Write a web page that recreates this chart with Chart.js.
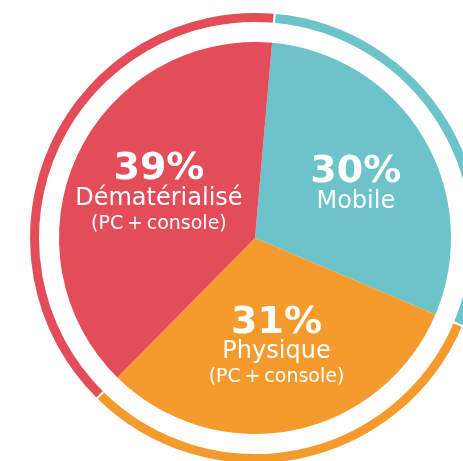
<!DOCTYPE html>
<html>
<head>
<meta charset="utf-8">
<script src="https://cdn.jsdelivr.net/npm/chart.js@4/dist/chart.umd.min.js"></script>
<style>
  html, body { margin: 0; padding: 0; background: #ffffff; overflow: hidden; width: 463px; height: 461px; }
  #wrap { position: absolute; left: 0; top: 11px; width: 510px; height: 454px; }
</style>
</head>
<body>
<div id="wrap"><canvas id="c" width="510" height="454"></canvas></div>
<script>
const categories = ['Mobile', 'Physique', 'Dématérialisé'];
const shares = [30, 31, 39];
const percentLabels = ['30%', '31%', '39%'];
const subLabels = ['', '(PC\u2009+\u2009console)', '(PC\u2009+\u2009console)'];

const colors = ['#6CC3C9', '#F59B2E', '#E34D59'];
const labelRadius = [0.6, 0.565, 0.54];
const FONT = '"DejaVu Sans", sans-serif';

const labelPlugin = {
  id: 'sliceLabels',
  afterDatasetsDraw(chart) {
    const meta = chart.getDatasetMeta(2);
    const ctx = chart.ctx;
    ctx.save();
    ctx.fillStyle = '#ffffff';
    ctx.textAlign = 'center';
    ctx.textBaseline = 'middle';
    meta.data.forEach((arc, i) => {
      const p = arc.getProps(['x', 'y', 'startAngle', 'endAngle', 'outerRadius'], true);
      const mid = (p.startAngle + p.endAngle) / 2;
      const r = p.outerRadius * labelRadius[i];
      const cx = p.x + Math.cos(mid) * r;
      const cy = p.y + Math.sin(mid) * r;
      const hasSub = subLabels[i] !== '';
      const top = hasSub ? cy - 24 : cy - 5;
      ctx.font = 'bold 38px ' + FONT;
      ctx.fillText(percentLabels[i], cx, top);
      ctx.font = '24px ' + FONT;
      ctx.fillText(categories[i], cx, top + 29);
      if (hasSub) {
        ctx.font = '19px ' + FONT;
        ctx.fillText(subLabels[i], cx, top + 54);
      }
    });
    ctx.restore();
  }
};

new Chart(document.getElementById('c'), {
  type: 'pie',
  data: {
    labels: categories,
    datasets: [
      { data: shares, backgroundColor: colors, borderColor: '#ffffff', borderWidth: 2, weight: 11 },
      { data: shares, backgroundColor: 'rgba(0,0,0,0)', borderWidth: 0, weight: 19 },
      { data: shares, backgroundColor: colors, borderWidth: 0, weight: 196 }
    ]
  },
  options: {
    responsive: false,
    animation: false,
    events: [],
    rotation: 5,
    layout: { padding: 0 },
    plugins: { legend: { display: false }, tooltip: { enabled: false } }
  },
  plugins: [labelPlugin]
});
</script>
</body>
</html>
